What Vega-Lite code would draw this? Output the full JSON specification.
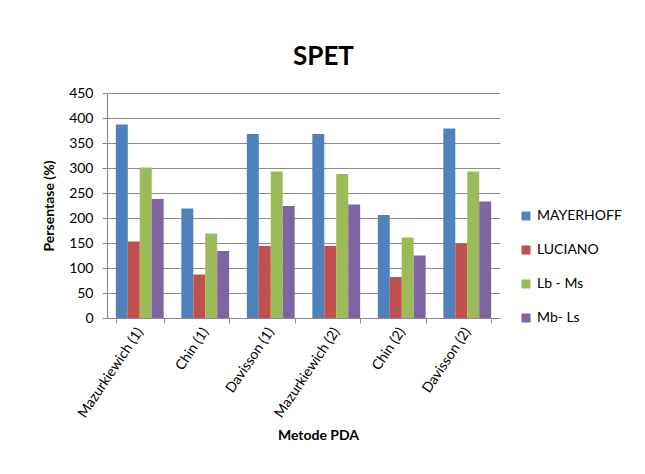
{
  "$schema": "https://vega.github.io/schema/vega-lite/v6.json",
  "autosize": "none",
  "width": 393,
  "height": 225,
  "padding": {"left": 107, "top": 93, "right": 145, "bottom": 156},
  "background": "white",
  "title": {
    "text": "SPET",
    "font": "Lato",
    "fontSize": 26,
    "fontWeight": "bold",
    "color": "#000000",
    "anchor": "middle",
    "frame": "group",
    "dx": 20,
    "offset": 16
  },
  "data": {
    "values": [
      {"metode": "Mazurkiewich (1)", "series": "MAYERHOFF", "value": 387},
      {"metode": "Mazurkiewich (1)", "series": "LUCIANO", "value": 153},
      {"metode": "Mazurkiewich (1)", "series": "Lb - Ms", "value": 301},
      {"metode": "Mazurkiewich (1)", "series": "Mb- Ls", "value": 238},
      {"metode": "Chin (1)", "series": "MAYERHOFF", "value": 219},
      {"metode": "Chin (1)", "series": "LUCIANO", "value": 87},
      {"metode": "Chin (1)", "series": "Lb - Ms", "value": 169},
      {"metode": "Chin (1)", "series": "Mb- Ls", "value": 134},
      {"metode": "Davisson (1)", "series": "MAYERHOFF", "value": 368},
      {"metode": "Davisson (1)", "series": "LUCIANO", "value": 144},
      {"metode": "Davisson (1)", "series": "Lb - Ms", "value": 293},
      {"metode": "Davisson (1)", "series": "Mb- Ls", "value": 224},
      {"metode": "Mazurkiewich (2)", "series": "MAYERHOFF", "value": 368},
      {"metode": "Mazurkiewich (2)", "series": "LUCIANO", "value": 144},
      {"metode": "Mazurkiewich (2)", "series": "Lb - Ms", "value": 288},
      {"metode": "Mazurkiewich (2)", "series": "Mb- Ls", "value": 227},
      {"metode": "Chin (2)", "series": "MAYERHOFF", "value": 206},
      {"metode": "Chin (2)", "series": "LUCIANO", "value": 82},
      {"metode": "Chin (2)", "series": "Lb - Ms", "value": 161},
      {"metode": "Chin (2)", "series": "Mb- Ls", "value": 125},
      {"metode": "Davisson (2)", "series": "MAYERHOFF", "value": 379},
      {"metode": "Davisson (2)", "series": "LUCIANO", "value": 149},
      {"metode": "Davisson (2)", "series": "Lb - Ms", "value": 293},
      {"metode": "Davisson (2)", "series": "Mb- Ls", "value": 233}
    ]
  },
  "mark": {"type": "bar"},
  "encoding": {
    "x": {
      "field": "metode",
      "type": "nominal",
      "sort": null,
      "scale": {"paddingInner": 0.27, "paddingOuter": 0.135},
      "axis": {
        "title": "Metode PDA",
        "titleFont": "Lato",
        "titleFontSize": 14,
        "titleFontWeight": "bold",
        "titleColor": "#000000",
        "titlePadding": 9,
        "titleX": 211,
        "labelFont": "Lato",
        "labelFontSize": 14,
        "labelColor": "#000000",
        "labelAngle": -56,
        "labelPadding": 6,
        "tickBand": "extent",
        "tickSize": 5,
        "tickColor": "#8c8c8c",
        "domainColor": "#8c8c8c",
        "domainWidth": 1.2,
        "grid": false
      }
    },
    "xOffset": {
      "field": "series",
      "type": "nominal",
      "sort": ["MAYERHOFF", "LUCIANO", "Lb - Ms", "Mb- Ls"],
      "scale": {"paddingInner": 0, "paddingOuter": 0}
    },
    "y": {
      "field": "value",
      "type": "quantitative",
      "scale": {"domain": [0, 450], "nice": false},
      "axis": {
        "title": "Persentase (%)",
        "titleFont": "Lato",
        "titleFontSize": 14,
        "titleFontWeight": "bold",
        "titleColor": "#000000",
        "titlePadding": 12,
        "labelFont": "Lato",
        "labelFontSize": 14,
        "labelColor": "#000000",
        "labelPadding": 9,
        "values": [0, 50, 100, 150, 200, 250, 300, 350, 400, 450],
        "tickSize": 5,
        "tickColor": "#8c8c8c",
        "domainColor": "#8c8c8c",
        "domainWidth": 1.2,
        "grid": true,
        "gridColor": "#8c8c8c",
        "gridWidth": 1.2
      }
    },
    "color": {
      "field": "series",
      "type": "nominal",
      "sort": ["MAYERHOFF", "LUCIANO", "Lb - Ms", "Mb- Ls"],
      "scale": {
        "domain": ["MAYERHOFF", "LUCIANO", "Lb - Ms", "Mb- Ls"],
        "range": ["#4F81BD", "#C0504D", "#9BBB59", "#8064A2"]
      },
      "legend": {
        "title": null,
        "orient": "none",
        "legendX": 412,
        "legendY": 116,
        "symbolType": "square",
        "symbolSize": 81,
        "symbolStrokeWidth": 0,
        "labelFont": "Lato",
        "labelFontSize": 14,
        "labelColor": "#000000",
        "labelOffset": 4,
        "rowPadding": 20
      }
    }
  },
  "config": {
    "view": {"stroke": null}
  }
}
